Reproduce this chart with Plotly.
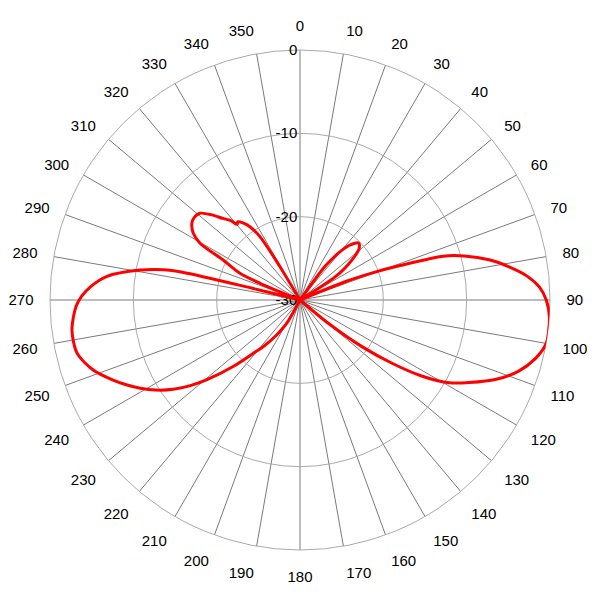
import plotly.graph_objects as go

# Antenna pattern (dB), angle in degrees (clockwise from north)
theta_deg = [0, 10, 20, 30, 34, 36.3, 38, 39.6, 42, 45.8, 49, 52, 55, 56.9, 59,
             65, 68, 69.5, 71, 73, 75, 78, 81, 84, 87, 90, 94, 100, 104, 108, 112, 116, 119,
             122, 124.5, 127, 129.5, 132,
             140, 160, 180, 200, 205,
             209.7, 214.3, 218, 221.2, 225, 229.4, 232, 234.8, 238, 241.1, 244, 246.8,
             251.3, 256.6, 262.5, 268.3, 271, 273.6, 276.9, 280.6, 282.5, 283.3, 283.8, 285.5,
             289, 292.7, 294, 297.5, 299.6, 302, 305.3, 308, 310.9, 314, 316.5, 318.8,
             320.3, 321.5, 323.5, 325.7, 327.7, 329, 331,
             340, 350, 360]
gain_db = [-30, -30, -30, -30, -30, -25.3, -23.8, -22.5, -21.2, -20.2, -20.6, -21.9, -23.6, -25.2, -30,
           -30, -24.0, -20.6, -17.3, -12.0, -9.6, -6.8, -4.6, -2.6, -1.2, -0.45, 0, 0, -0.9, -2.4, -4.6, -7.4, -9.5,
           -12.8, -16.6, -20.7, -25.6, -30,
           -30, -30, -30, -30, -30,
           -26.8, -24.7, -23.0, -21.5, -18.8, -15.3, -13.3, -11.4, -9.6, -8.1, -6.8, -5.6,
           -3.8, -2.5, -2.4, -3.1, -3.8, -4.8, -6.6, -10.5, -13.2, -15.5, -24, -30,
           -30, -24.8, -22.1, -19.6, -16.2, -14.9, -14.1, -13.9, -14.1, -15.3, -16.5, -17.3,
           -18.2, -18.0, -18.5, -19.4, -21.0, -25.3, -30,
           -30, -30, -30]

angle_ticks = list(range(0, 360, 10))
angle_labels = [str(a) for a in angle_ticks]
radial_ticks = [-30, -20, -10, 0]
radial_labels = ["-30", "-20", "-10", "0"]

fig = go.Figure()
fig.add_trace(go.Scatterpolar(
    r=gain_db, theta=theta_deg, mode="lines",
    line=dict(color="#ff0000", width=3, shape="spline", smoothing=0.8),
    hoverinfo="skip", showlegend=False,
))

font = dict(family="Liberation Sans, Arial, sans-serif", size=15, color="black")

fig.update_layout(
    width=592, height=592,
    margin=dict(l=42, r=50, t=42, b=50),
    paper_bgcolor="white", plot_bgcolor="white",
    showlegend=False,
    polar=dict(
        domain=dict(x=[0, 1], y=[0, 1]),
        bgcolor="white",
        angularaxis=dict(
            rotation=90, direction="clockwise",
            tickmode="array", tickvals=angle_ticks, ticktext=angle_labels,
            showgrid=True, gridcolor="#7a7a7a", gridwidth=1,
            showline=True, linecolor="#aaaaaa", linewidth=1,
            ticks="outside", ticklen=13, tickcolor="rgba(0,0,0,0)",
            tickfont=font, layer="below traces",
        ),
        radialaxis=dict(
            range=[-30, 0], tickmode="array", tickvals=radial_ticks, ticktext=radial_labels,
            angle=90, side="counterclockwise", tickangle=90,
            showline=False, showgrid=True, gridcolor="#aaaaaa", gridwidth=1,
            ticks="", tickfont=font, layer="below traces",
        ),
    ),
)

fig.write_html("out.html")
